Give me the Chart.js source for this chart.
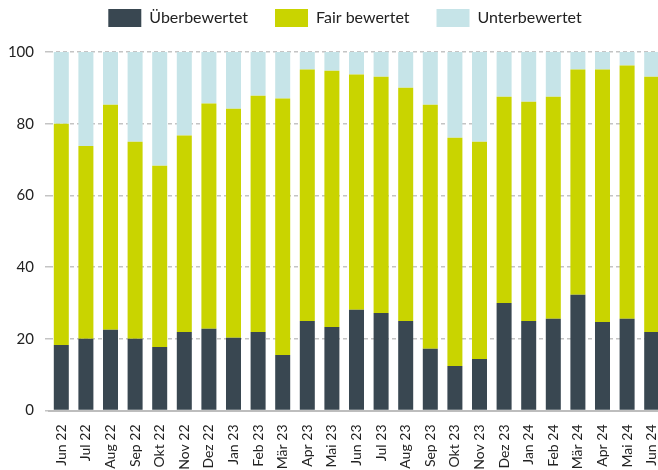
<!DOCTYPE html>
<html>
<head>
<meta charset="utf-8">
<script src="https://cdn.jsdelivr.net/npm/chart.js@4.4.1/dist/chart.umd.min.js"></script>
<style>
html, body { margin: 0; padding: 0; overflow: hidden; background: #fff; width: 658px; height: 470px; }
#wrap { position: relative; width: 664px; height: 470px; }
</style>
</head>
<body>
<div id="wrap"><canvas id="c" width="664" height="470"></canvas></div>
<script>
const categories = ["Jun 22","Jul 22","Aug 22","Sep 22","Okt 22","Nov 22","Dez 22","Jan 23","Feb 23","Mär 23","Apr 23","Mai 23","Jun 23","Jul 23","Aug 23","Sep 23","Okt 23","Nov 23","Dez 23","Jan 24","Feb 24","Mär 24","Apr 24","Mai 24","Jun 24"];
const ueberbewertet = [18.3, 20.0, 22.5, 20.0, 17.7, 21.9, 22.8, 20.3, 21.9, 15.5, 25.0, 23.3, 28.1, 27.2, 25.0, 17.2, 12.4, 14.4, 30.0, 25.0, 25.6, 32.3, 24.7, 25.6, 21.9];
const fairBewertet = [61.7, 53.8, 62.8, 55.0, 50.6, 54.8, 62.8, 63.9, 65.9, 71.5, 70.1, 71.5, 65.6, 65.9, 65.0, 68.1, 63.7, 60.6, 57.5, 61.1, 61.9, 62.8, 70.4, 70.6, 71.2];
const unterbewertet = [20.0, 26.2, 14.7, 25.0, 31.7, 23.3, 14.4, 15.8, 12.2, 13.0, 4.9, 5.2, 6.3, 6.9, 10.0, 14.7, 23.9, 25.0, 12.5, 13.9, 12.5, 4.9, 4.9, 3.8, 6.9];
const yTicks = [0, 20, 40, 60, 80, 100];

const shiftLegend = {
  id: 'shiftLegend',
  afterLayout(chart) {
    const lg = chart.legend;
    const dx = 13, dy = -15;
    lg.left += dx; lg.right += dx;
    lg.top += dy; lg.bottom += dy;
  }
};

new Chart(document.getElementById('c'), {
  type: 'bar',
  data: {
    labels: categories,
    datasets: [
      { label: 'Überbewertet', data: ueberbewertet, backgroundColor: '#394751' },
      { label: 'Fair bewertet', data: fairBewertet, backgroundColor: '#c9d400' },
      { label: 'Unterbewertet', data: unterbewertet, backgroundColor: '#c6e4e8' }
    ]
  },
  plugins: [shiftLegend],
  options: {
    responsive: false,
    animation: false,
    layout: { padding: { left: 0, right: 0, top: -3, bottom: 0 } },
    datasets: { bar: { barPercentage: 0.61, categoryPercentage: 1.0 } },
    plugins: {
      legend: {
        position: 'top',
        labels: {
          boxWidth: 33, boxHeight: 18, padding: 27,
          color: '#222',
          font: { family: 'Lato', size: 16 }
        }
      },
      tooltip: { enabled: false }
    },
    scales: {
      x: {
        stacked: true,
        grid: { display: false, drawTicks: false },
        border: { display: true, color: '#bdbdbd', width: 2 },
        ticks: {
          minRotation: 90, maxRotation: 90, padding: 14,
          color: '#222', font: { family: 'Lato', size: 14 }
        },
        afterFit(scale) { scale.height = 59.5; scale.paddingLeft = 0; scale.paddingRight = 0; }
      },
      y: {
        stacked: true,
        min: 0, max: 100,
        afterBuildTicks(scale) { scale.ticks = yTicks.map(v => ({ value: v })); },
        afterFit(scale) { scale.width = 49; },
        grid: { color: '#c4c4c4', lineWidth: 1.5, tickLength: 4, drawOnChartArea: true },
        border: { display: false, dash: [4, 3] },
        ticks: {
          padding: 11,
          color: '#222', font: { family: 'Lato', size: 15 }
        }
      }
    }
  }
});
</script>
</body>
</html>
